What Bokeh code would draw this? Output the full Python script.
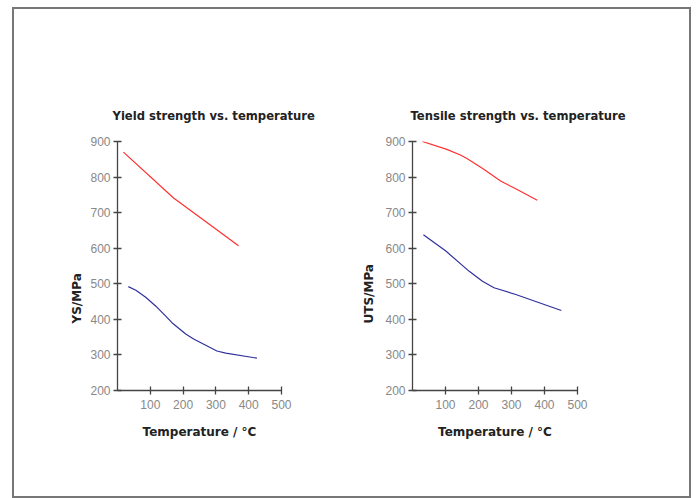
from bokeh.plotting import figure
from bokeh.layouts import row
from bokeh.models import Range1d, Title, FixedTicker
from bokeh.embed import file_html
from bokeh.resources import INLINE

# ---- data ----
ys_title = "Yield strength vs. temperature"
uts_title = "Tensile strength vs. temperature"
x_label = "Temperature / °C"
ys_label = "YS/MPa"
uts_label = "UTS/MPa"
x_ticks = [100, 200, 300, 400, 500]
y_ticks = [200, 300, 400, 500, 600, 700, 800, 900]

ys_red_t = [18, 171, 369]
ys_red_v = [870, 741, 607]
ys_blue_t = [33, 56, 86, 117, 147, 167, 208, 232, 303, 330, 425]
ys_blue_v = [492, 482, 462, 437, 409, 390, 359, 345, 311, 305, 291]

uts_red_t = [30, 104, 145, 165, 216, 267, 317, 378]
uts_red_v = [900, 878, 862, 852, 822, 789, 765, 735]
uts_blue_t = [33, 101, 172, 212, 247, 313, 451]
uts_blue_v = [638, 592, 535, 507, 489, 470, 425]

RED = "#ff3030"
BLUE = "#30309c"
FONT = "Liberation Sans"
BFONT = "DejaVu Sans"


def make(title, ylabel, red_t, red_v, blue_t, blue_v, width, mb_left, mb_right,
         title_off, lab_standoff):
    p = figure(width=width, height=487, x_range=Range1d(0, 500), y_range=Range1d(200, 900),
               output_backend="svg", toolbar_location=None,
               min_border_left=mb_left, min_border_right=mb_right,
               min_border_top=132, min_border_bottom=106)
    p.outline_line_color = None
    p.grid.visible = False
    p.background_fill_color = "white"
    p.border_fill_color = "white"

    p.line(red_t, red_v, line_color=RED, line_width=1.2)
    p.line(blue_t, blue_v, line_color=BLUE, line_width=1.2)

    for ax in (p.xaxis[0], p.yaxis[0]):
        ax.axis_line_color = "#444444"
        ax.axis_line_width = 1.3
        ax.major_tick_line_color = "#444444"
        ax.major_tick_line_width = 1.3
        ax.major_tick_in = 4
        ax.major_tick_out = 4
        ax.minor_tick_line_color = None
        ax.major_label_text_font = FONT
        ax.major_label_text_font_size = "12px"
        ax.major_label_text_color = "#888888"
        ax.axis_label_text_font = BFONT
        ax.axis_label_text_font_size = "12px"
        ax.axis_label_text_font_style = "bold"
        ax.axis_label_text_color = "#222222"

    p.xaxis.ticker = FixedTicker(ticks=x_ticks)
    p.yaxis.ticker = FixedTicker(ticks=y_ticks)
    p.xaxis.major_label_standoff = 5
    p.yaxis.major_label_standoff = 3
    p.xaxis.axis_label = x_label
    p.xaxis.axis_label_standoff = 13

    p.title.text = title
    p.title.align = "left"
    p.title.offset = title_off
    p.title.text_font = BFONT
    p.title.text_font_size = "11.6px"
    p.title.text_font_style = "bold"
    p.title.text_color = "#222222"
    p.title.standoff = 37

    lab = Title(text=ylabel, align="left", offset=67, standoff=lab_standoff,
                text_font=BFONT, text_font_size="12px", text_font_style="bold",
                text_color="#222222")
    p.add_layout(lab, "left")
    return p


p1 = make(ys_title, ys_label, ys_red_t, ys_red_v, ys_blue_t, ys_blue_v,
          337, 103, 70, -5, 7)
p2 = make(uts_title, uts_label, uts_red_t, uts_red_v, uts_blue_t, uts_blue_v,
          338, 61, 112, -2, 14)

layout = row(p1, p2, styles={"border": "2px solid #777777"}, margin=(7, 0, 0, 12))

open("out.html", "w").write(file_html(layout, INLINE))
